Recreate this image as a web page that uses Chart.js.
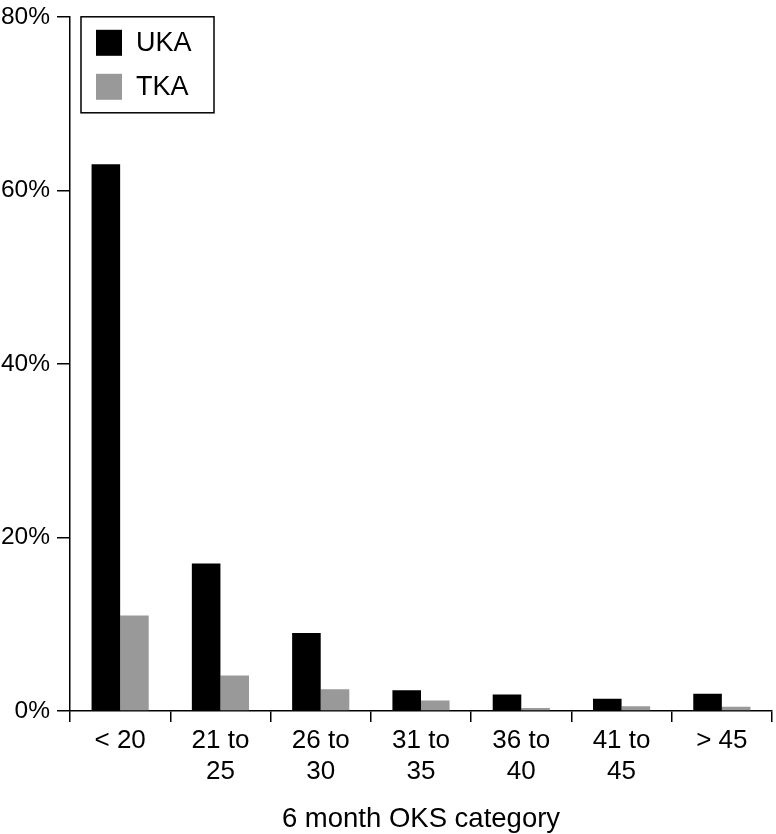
<!DOCTYPE html>
<html>
<head>
<meta charset="utf-8">
<script src="https://cdn.jsdelivr.net/npm/chart.js@4"></script>
<style>
  html, body { margin: 0; padding: 0; background: #fff; }
  #wrap { width: 776px; height: 834px; }
</style>
</head>
<body>
<div id="wrap"><canvas id="oksChart" width="776" height="834"></canvas></div>
<script>
// 6 month OKS category (x axis)
const categories = [['< 20'], ['21 to', '25'], ['26 to', '30'], ['31 to', '35'], ['36 to', '40'], ['41 to', '45'], ['> 45']];
// percentage of patients per category
const ukaValues = [63, 17, 9, 2.4, 1.9, 1.4, 2.0];
const tkaValues = [11, 4.1, 2.5, 1.2, 0.35, 0.55, 0.5];
const yTicks = [0, 20, 40, 60, 80];

const FONT = '"Liberation Sans", Arial, Helvetica, sans-serif';

// legend drawn inside the plot, top left
const boxLegend = {
  id: 'boxLegend',
  afterDraw(chart) {
    const ctx = chart.ctx;
    const area = chart.chartArea;
    const x = area.left + 11, y = area.top;
    ctx.save();
    ctx.strokeStyle = '#000';
    ctx.lineWidth = 1.5;
    ctx.strokeRect(x, y, 133, 96);
    ctx.font = '27px ' + FONT;
    ctx.textBaseline = 'middle';
    ctx.textAlign = 'left';
    chart.data.datasets.forEach((ds, i) => {
      const rowY = y + 13 + i * 44;
      ctx.fillStyle = ds.backgroundColor;
      ctx.fillRect(x + 15, rowY, 26, 26);
      ctx.fillStyle = '#000';
      ctx.fillText(ds.label, x + 55, rowY + 14);
    });
    ctx.restore();
  }
};

new Chart(document.getElementById('oksChart').getContext('2d'), {
  type: 'bar',
  data: {
    labels: categories,
    datasets: [
      { label: 'UKA', data: ukaValues, backgroundColor: '#000000' },
      { label: 'TKA', data: tkaValues, backgroundColor: '#999999' }
    ]
  },
  options: {
    responsive: false,
    animation: false,
    layout: { padding: { top: 15, right: 4, left: 0, bottom: 0 } },
    datasets: { bar: { categoryPercentage: 0.57, barPercentage: 1.0 } },
    plugins: { legend: { display: false }, tooltip: { enabled: false } },
    scales: {
      x: {
        grid: { drawOnChartArea: false, color: '#000', lineWidth: 1.5, tickLength: 11, offset: true },
        border: { color: '#000', width: 1.5 },
        ticks: { color: '#000', font: { family: FONT, size: 26, lineHeight: 1.2 }, padding: 3, maxRotation: 0, autoSkip: false },
        title: { display: true, text: '6 month OKS category', color: '#000', font: { family: FONT, size: 27.5, lineHeight: 1 }, padding: { top: 0, bottom: 1 } },
        afterFit(scale) { scale.height = 123; }
      },
      y: {
        min: 0,
        max: 80,
        afterBuildTicks(scale) { scale.ticks = yTicks.map(v => ({ value: v })); },
        grid: { drawOnChartArea: false, color: '#000', lineWidth: 1.5, tickLength: 13 },
        border: { color: '#000', width: 1.5 },
        ticks: { color: '#000', font: { family: FONT, size: 24.5, lineHeight: 0.8 }, padding: 7, callback: v => v + '%' },
        afterFit(scale) { scale.width = 70; }
      }
    }
  },
  plugins: [boxLegend]
});
</script>
</body>
</html>
